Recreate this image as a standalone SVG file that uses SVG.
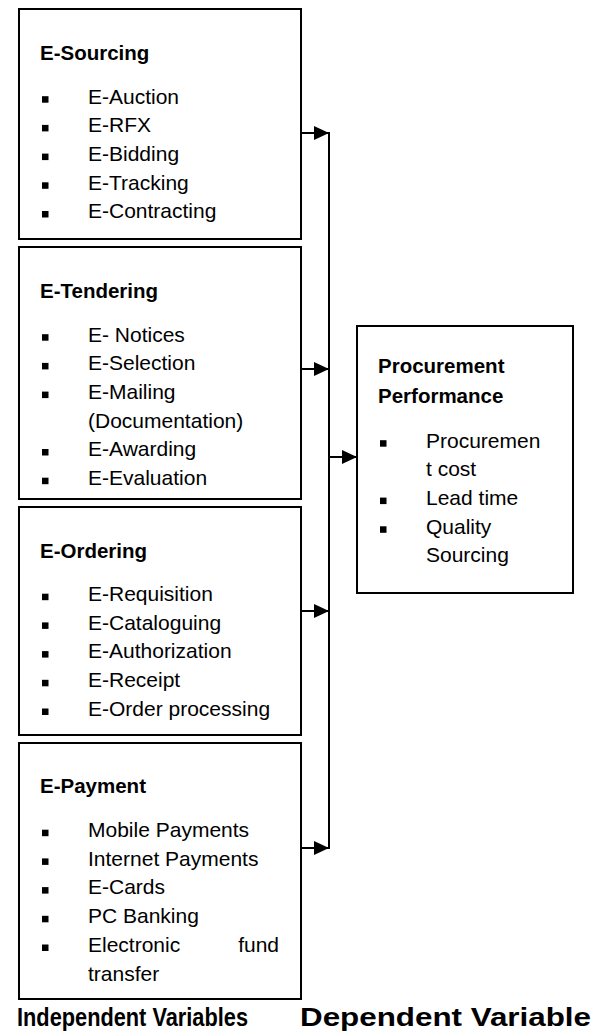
<svg xmlns="http://www.w3.org/2000/svg" width="594" height="1032" viewBox="0 0 594 1032">
<defs>
<style>
.box{fill:#fff;stroke:#000;stroke-width:2}
.t{font-family:"Liberation Sans",Arial,sans-serif;font-size:21px;fill:#000}
.h{font-family:"Liberation Sans",Arial,sans-serif;font-size:20.5px;font-weight:bold;fill:#000}
.lab{font-family:"Liberation Sans",Arial,sans-serif;font-size:26px;font-weight:bold;fill:#000}
.b{fill:#000}
.c{stroke:#000;stroke-width:2;fill:none}
</style>
<marker id="ah" viewBox="0 0 15 14" refX="15" refY="7" markerWidth="15" markerHeight="14" markerUnits="userSpaceOnUse" orient="auto">
<path d="M0,0 L15,7 L0,14 Z" fill="#000"/>
</marker>
</defs>
<rect width="594" height="1032" fill="#fff"/>

<g id="e-sourcing">
<rect class="box" x="19" y="9" width="282" height="230"/>
<text class="h" x="40" y="60">E-Sourcing</text>
<rect class="b" x="42" y="96.2" width="6.5" height="6.5"/><text class="t" x="88" y="103.5">E-Auction</text>
<rect class="b" x="42" y="124.9" width="6.5" height="6.5"/><text class="t" x="88" y="132.2">E-RFX</text>
<rect class="b" x="42" y="153.6" width="6.5" height="6.5"/><text class="t" x="88" y="160.9">E-Bidding</text>
<rect class="b" x="42" y="182.3" width="6.5" height="6.5"/><text class="t" x="88" y="189.6">E-Tracking</text>
<rect class="b" x="42" y="211" width="6.5" height="6.5"/><text class="t" x="88" y="218.3">E-Contracting</text>
</g>

<g id="e-tendering">
<rect class="box" x="19" y="247" width="282" height="252"/>
<text class="h" x="40" y="297.5">E-Tendering</text>
<rect class="b" x="42" y="334.2" width="6.5" height="6.5"/><text class="t" x="88" y="341.5">E- Notices</text>
<rect class="b" x="42" y="362.9" width="6.5" height="6.5"/><text class="t" x="88" y="370.2">E-Selection</text>
<rect class="b" x="42" y="391.6" width="6.5" height="6.5"/><text class="t" x="88" y="398.9">E-Mailing</text>
<text class="t" x="88" y="427.6">(Documentation)</text>
<rect class="b" x="42" y="449" width="6.5" height="6.5"/><text class="t" x="88" y="456.3">E-Awarding</text>
<rect class="b" x="42" y="477.7" width="6.5" height="6.5"/><text class="t" x="88" y="485">E-Evaluation</text>
</g>

<g id="e-ordering">
<rect class="box" x="19" y="507" width="282" height="228"/>
<text class="h" x="40" y="558">E-Ordering</text>
<rect class="b" x="42" y="593.7" width="6.5" height="6.5"/><text class="t" x="88" y="601">E-Requisition</text>
<rect class="b" x="42" y="622.4" width="6.5" height="6.5"/><text class="t" x="88" y="629.7">E-Cataloguing</text>
<rect class="b" x="42" y="651.1" width="6.5" height="6.5"/><text class="t" x="88" y="658.4">E-Authorization</text>
<rect class="b" x="42" y="679.8" width="6.5" height="6.5"/><text class="t" x="88" y="687.1">E-Receipt</text>
<rect class="b" x="42" y="708.5" width="6.5" height="6.5"/><text class="t" x="88" y="715.8">E-Order processing</text>
</g>

<g id="e-payment">
<rect class="box" x="19" y="743" width="282" height="256"/>
<text class="h" x="40" y="793">E-Payment</text>
<rect class="b" x="42" y="829.7" width="6.5" height="6.5"/><text class="t" x="88" y="837">Mobile Payments</text>
<rect class="b" x="42" y="858.4" width="6.5" height="6.5"/><text class="t" x="88" y="865.7">Internet Payments</text>
<rect class="b" x="42" y="887.1" width="6.5" height="6.5"/><text class="t" x="88" y="894.4">E-Cards</text>
<rect class="b" x="42" y="915.8" width="6.5" height="6.5"/><text class="t" x="88" y="923.1">PC Banking</text>
<rect class="b" x="42" y="944.5" width="6.5" height="6.5"/><text class="t" x="88" y="951.8">Electronic</text><text class="t" x="279" y="951.8" text-anchor="end">fund</text>
<text class="t" x="88" y="980.5">transfer</text>
</g>

<g id="procurement-performance">
<rect class="box" x="357" y="326" width="216" height="267"/>
<text class="h" x="378" y="373">Procurement</text>
<text class="h" x="378" y="402.5">Performance</text>
<rect class="b" x="380" y="440.2" width="6.5" height="6.5"/><text class="t" x="426" y="447.5">Procuremen</text>
<text class="t" x="426" y="476.2">t cost</text>
<rect class="b" x="380" y="497.6" width="6.5" height="6.5"/><text class="t" x="426" y="504.9">Lead time</text>
<rect class="b" x="380" y="526.3" width="6.5" height="6.5"/><text class="t" x="426" y="533.6">Quality</text>
<text class="t" x="426" y="562.3">Sourcing</text>
</g>

<g id="connectors">
<line class="c" x1="329" y1="132" x2="329" y2="849"/>
<line class="c" x1="301" y1="133" x2="329" y2="133" marker-end="url(#ah)"/>
<line class="c" x1="301" y1="369" x2="329" y2="369" marker-end="url(#ah)"/>
<line class="c" x1="301" y1="611" x2="329" y2="611" marker-end="url(#ah)"/>
<line class="c" x1="301" y1="848" x2="329" y2="848" marker-end="url(#ah)"/>
<line class="c" x1="329" y1="457" x2="357" y2="457" marker-end="url(#ah)"/>
</g>

<g id="labels">
<text class="lab" x="17" y="1026" textLength="231" lengthAdjust="spacingAndGlyphs">Independent Variables</text>
<text class="lab" x="300" y="1026" textLength="291" lengthAdjust="spacingAndGlyphs">Dependent Variable</text>
</g>
</svg>
